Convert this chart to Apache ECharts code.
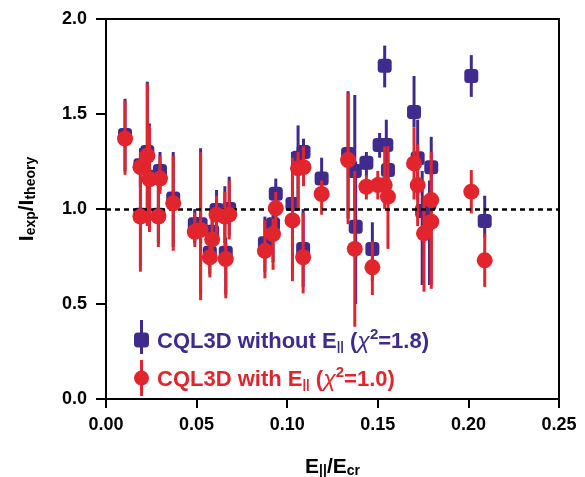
<!DOCTYPE html>
<html>
<head>
<meta charset="utf-8">
<script src="https://cdn.jsdelivr.net/npm/echarts@6/dist/echarts.min.js"></script>
<style>html,body{margin:0;padding:0;background:#fff}#c{width:585px;height:477px}</style>
</head>
<body>
<div id="c"></div>
<script>
// ---- data ----
const xTicks = [0, 0.05, 0.10, 0.15, 0.20, 0.25];
const yTicks = [0, 0.5, 1.0, 1.5, 2.0];

// CQL3D without E|| (blue squares)
const blueX  = [0.0105,0.019,0.019,0.0228,0.024,0.0298,0.0289,0.0371,0.049,0.0522,0.0586,0.0573,0.061,0.0656,0.068,0.0661,0.0877,0.0922,0.0937,0.1029,0.106,0.109,0.1088,0.119,0.1336,0.1373,0.1378,0.1437,0.1538,0.151,0.1547,0.1556,0.147,0.170,0.172,0.1745,0.1785,0.1795,0.2016,0.209];
const blueY  = [1.39,1.23,0.97,1.30,1.17,1.20,0.97,1.055,0.92,0.92,0.88,0.77,0.995,0.98,1.00,0.77,0.82,0.92,1.08,1.026,1.27,1.30,0.79,1.16,1.29,1.20,0.907,1.244,1.754,1.337,1.337,1.205,0.79,1.51,1.267,0.99,1.03,1.22,1.70,0.937];
const blueLo = [1.20,1.12,0.70,0.92,0.88,1.10,0.82,0.80,0.82,0.55,0.80,0.66,0.87,0.82,0.86,0.55,0.67,0.72,0.95,0.68,1.05,1.18,0.59,1.04,0.95,1.00,0.50,1.17,1.64,1.27,1.20,1.10,0.62,1.43,1.05,0.60,0.60,1.00,1.59,0.85];
const blueHi = [1.58,1.32,1.23,1.67,1.45,1.30,1.13,1.30,1.00,1.32,0.97,0.84,1.10,1.12,1.17,0.85,0.96,1.01,1.16,1.30,1.44,1.37,1.00,1.27,1.62,1.60,1.25,1.30,1.86,1.40,1.47,1.30,0.93,1.70,1.47,1.20,1.15,1.38,1.81,1.07];

// CQL3D with E|| (red circles)
const redX  = [0.0105,0.019,0.019,0.0228,0.024,0.0298,0.0289,0.0371,0.049,0.0522,0.0586,0.0573,0.061,0.0656,0.068,0.0661,0.0877,0.0922,0.0937,0.1029,0.106,0.109,0.1088,0.119,0.1336,0.1373,0.1437,0.150,0.1538,0.1556,0.147,0.170,0.172,0.1755,0.1795,0.1795,0.2016,0.209];
const redY  = [1.37,1.22,0.96,1.28,1.156,1.16,0.96,1.03,0.88,0.89,0.84,0.745,0.97,0.96,0.97,0.737,0.78,0.868,1.004,0.94,1.214,1.22,0.746,1.079,1.258,0.79,1.117,1.126,1.126,1.065,0.693,1.24,1.126,0.872,1.047,0.933,1.091,0.73];
const redLo = [1.18,1.12,0.67,0.91,0.88,1.08,0.80,0.78,0.80,0.52,0.77,0.64,0.85,0.80,0.84,0.53,0.635,0.68,0.90,0.62,1.00,1.12,0.556,0.97,0.92,0.38,1.05,1.05,1.00,0.79,0.547,1.05,0.91,0.565,0.58,0.60,0.977,0.59];
const redHi = [1.57,1.30,1.22,1.66,1.44,1.28,1.12,1.28,0.98,1.30,0.95,0.80,1.07,1.09,1.15,0.82,0.94,0.95,1.09,1.27,1.30,1.33,0.98,1.15,1.61,1.20,1.18,1.20,1.33,1.33,0.83,1.43,1.34,1.07,1.30,1.10,1.205,0.87];

const referenceY = 1.0;

const BLUE = '#3f2b8e';
const RED = '#e2252d';
const FONT = 'Liberation Sans';

function errBars(color) {
  return function (params, api) {
    const x = api.value(0);
    const p1 = api.coord([x, api.value(1)]);
    const p2 = api.coord([x, api.value(2)]);
    return {
      type: 'line',
      shape: { x1: p1[0], y1: p1[1], x2: p2[0], y2: p2[1] },
      style: { stroke: color, lineWidth: 3 }
    };
  };
}

const chart = echarts.init(document.getElementById('c'), null, { renderer: 'canvas' });

const axisLabel = { color: '#000', fontFamily: FONT, fontWeight: 'bold', fontSize: 18 };

function legendRich(prefix, color) {
  const r = {};
  r[prefix] = { fontFamily: FONT, fontWeight: 'bold', fontSize: 22, color: color, lineHeight: 26, verticalAlign: 'bottom' };
  r[prefix + 's'] = { fontFamily: FONT, fontWeight: 'bold', fontSize: 13, color: color, lineHeight: 14, verticalAlign: 'bottom' };
  r[prefix + 'g'] = { fontFamily: FONT, fontStyle: 'italic', fontSize: 23, color: color, lineHeight: 26, verticalAlign: 'bottom' };
  r[prefix + 'p'] = { fontFamily: FONT, fontWeight: 'bold', fontSize: 15, color: color, lineHeight: 24, verticalAlign: 'top' };
  return r;
}

// legend layout; a vertical error-bar stroke is drawn behind each legend marker
const legendLeft = 134, legendTop = 327, legendMarker = 15, legendGap = 12;
const legendCx = legendLeft + legendMarker / 2;

chart.setOption({
  animation: false,
  backgroundColor: '#fff',
  grid: {
    left: 106, right: 26, top: 19, bottom: 78, containLabel: false, outerBoundsMode: 'none',
    show: true, borderColor: '#000', borderWidth: 2, backgroundColor: 'transparent'
  },
  xAxis: {
    type: 'value', min: xTicks[0], max: xTicks[xTicks.length - 1], interval: 0.05,
    axisLine: { onZero: false, lineStyle: { color: '#000', width: 2 } },
    axisTick: { inside: false, length: 9, lineStyle: { color: '#000', width: 2 } },
    axisLabel: Object.assign({ margin: 17, formatter: v => v.toFixed(2) }, axisLabel),
    splitLine: { show: false },
    name: '{m|E}{s|||}{m|/E}{s|cr}',
    nameLocation: 'middle', nameGap: 53,
    nameTextStyle: {
      rich: {
        m: { fontFamily: FONT, fontWeight: 'bold', fontSize: 21, color: '#000', lineHeight: 26, verticalAlign: 'bottom' },
        s: { fontFamily: FONT, fontWeight: 'bold', fontSize: 14, color: '#000', lineHeight: 14, verticalAlign: 'bottom' }
      }
    }
  },
  yAxis: {
    type: 'value', min: yTicks[0], max: yTicks[yTicks.length - 1], interval: 0.5,
    axisLine: { onZero: false, lineStyle: { color: '#000', width: 2 } },
    axisTick: { inside: false, length: 10, lineStyle: { color: '#000', width: 2 } },
    axisLabel: Object.assign({ margin: 19, formatter: v => v.toFixed(1) }, axisLabel),
    splitLine: { show: false },
    name: '{m|I}{s|exp}{m|/I}{s|theory}',
    nameLocation: 'middle', nameGap: 68, nameRotate: 90,
    nameTextStyle: {
      padding: [0, 0, 0, 20],
      rich: {
        m: { fontFamily: FONT, fontWeight: 'bold', fontSize: 21, color: '#000', lineHeight: 26, verticalAlign: 'bottom' },
        s: { fontFamily: FONT, fontWeight: 'bold', fontSize: 14, color: '#000', lineHeight: 14, verticalAlign: 'bottom' }
      }
    }
  },
  graphic: [
    { type: 'rect', z: 0, shape: { x: legendCx - 1.5, y: 320, width: 3, height: 34 }, style: { fill: BLUE } },
    { type: 'rect', z: 0, shape: { x: legendCx - 1.5, y: 360, width: 3, height: 36 }, style: { fill: RED } }
  ],
  legend: {
    orient: 'vertical', left: legendLeft, top: legendTop, z: 5, padding: 0,
    itemWidth: legendMarker, itemHeight: legendMarker, itemGap: legendGap,
    data: [
      { name: 'without', icon: 'roundRect' },
      { name: 'with', icon: 'circle' }
    ],
    textStyle: {
      padding: [0, 0, 0, 3],
      rich: Object.assign({}, legendRich('b', BLUE), legendRich('r', RED))
    },
    formatter: function (name) {
      if (name === 'without') return '{b|CQL3D without E}{bs|||}{b| (}{bg|χ}{bp|2}{b|=1.8)}';
      return '{r|CQL3D with E}{rs|||}{r| (}{rg|χ}{rp|2}{r|=1.0)}';
    }
  },
  series: [
    {
      name: 'ref', type: 'line', data: [], z: 1, silent: true,
      markLine: {
        silent: true, symbol: 'none', label: { show: false },
        lineStyle: { color: '#000', width: 2.5, type: [5, 4] },
        data: [{ yAxis: referenceY }]
      }
    },
    {
      name: 'withoutErr', type: 'custom', z: 2, renderItem: errBars(BLUE),
      data: blueX.map((x, i) => [x, blueLo[i], blueHi[i]])
    },
    {
      name: 'without', type: 'scatter', z: 3, symbol: 'roundRect', symbolSize: 14,
      itemStyle: { color: BLUE, opacity: 1 },
      data: blueX.map((x, i) => [x, blueY[i]])
    },
    {
      name: 'withErr', type: 'custom', z: 4, renderItem: errBars(RED),
      data: redX.map((x, i) => [x, redLo[i], redHi[i]])
    },
    {
      name: 'with', type: 'scatter', z: 5, symbol: 'circle', symbolSize: 16,
      itemStyle: { color: RED, opacity: 1 },
      data: redX.map((x, i) => [x, redY[i]])
    }
  ]
});
</script>
</body>
</html>
